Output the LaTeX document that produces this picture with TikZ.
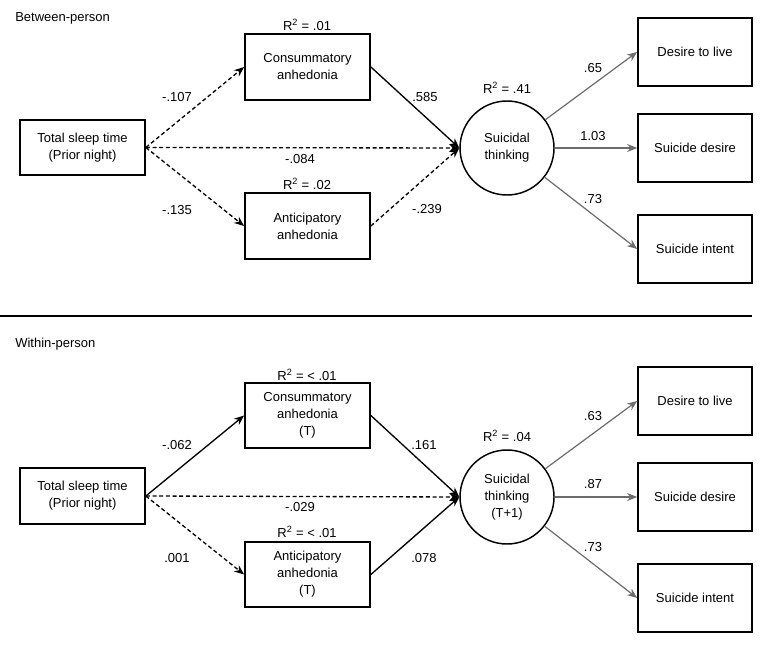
\documentclass[tikz,border=0pt]{standalone}
\usepackage{fontspec}
\setmainfont{Liberation Sans}
\usetikzlibrary{arrows.meta}
\begin{document}
\begin{tikzpicture}[x=0.75pt,y=-0.75pt,
  every node/.style={font=\fontsize{9.75}{12.75}\selectfont, inner sep=0pt, align=center},
  box/.style={draw, line width=1.3pt, minimum width=93.75pt, minimum height=#1},
  box/.default=49.5pt,
  latent/.style={draw, circle, line width=1.1pt, minimum size=70.5pt},
  blk/.style={line width=1pt, -{Stealth[length=7.5pt,width=6pt]}},
  dsh/.style={blk, dash pattern=on 3pt off 2pt},
  gry/.style={draw=gray!85!black, line width=0.9pt, -{Stealth[length=7.5pt,width=6pt]}, color=gray!85!black},
  lab/.style={}
]
\useasboundingbox (0,0) rectangle (762,645);

% ---------- Between-person ----------
\node[anchor=west] (t1) at (15,18) {Between-person};
\node[box=41.25pt] (s1) at (82.5,147.5) {Total sleep time\\(Prior night)};
\node[box] (c1) at (307.5,67) {Consummatory\\anhedonia};
\node[box] (a1) at (307.5,226) {Anticipatory\\anhedonia};
\node[latent] (st1) at (507,148) {Suicidal\\thinking};
\node[box=51pt, minimum width=85.5pt] (l1) at (695,52) {Desire to live};
\node[box=51pt, minimum width=85.5pt] (d1) at (695,148) {Suicide desire};
\node[box=51pt, minimum width=85.5pt] (i1) at (695,249) {Suicide intent};

\node (rc1) at (307,25) {R\textsuperscript{2} = .01};
\node (ra1) at (307,184) {R\textsuperscript{2} = .02};
\node (rs1) at (507,88) {R\textsuperscript{2} = .41};

\draw[dsh] (s1.east) -- (c1.west);
\draw[dsh] (s1.east) -- (a1.west);
\draw[dsh] (s1.east) -- (st1.west);
\draw[blk] (c1.east) -- (st1.west);
\draw[dsh] (a1.east) -- (st1.west);
\draw[gry] (st1) -- (l1.west);
\draw[gry] (st1) -- (d1.west);
\draw[gry] (st1) -- (i1.west);

\node (e1) at (177,97) {-.107};
\node (e2) at (177,210) {-.135};
\node (e3) at (300,159) {-.084};
\node (e4) at (425,97) {.585};
\node (e5) at (427,209) {-.239};
\node (e6) at (593,68) {.65};
\node (e7) at (593,136) {1.03};
\node (e8) at (593,199) {.73};

% ---------- separator ----------
\coordinate (sepL) at (0,316);
\coordinate (sepR) at (752,316);
\draw[line width=1.4pt] (sepL) -- (sepR);

% ---------- Within-person ----------
\node[anchor=west] (t2) at (15,344) {Within-person};
\node[box=42pt] (s2) at (82.5,496) {Total sleep time\\(Prior night)};
\node[box=48.75pt] (c2) at (307.5,415.5) {Consummatory\\anhedonia\\(T)};
\node[box=48.75pt] (a2) at (307.5,574.5) {Anticipatory\\anhedonia\\(T)};
\node[latent] (st2) at (507,497) {Suicidal\\thinking\\(T+1)};
\node[box=51pt, minimum width=85.5pt] (l2) at (695,401) {Desire to live};
\node[box=51pt, minimum width=85.5pt] (d2) at (695,497) {Suicide desire};
\node[box=51pt, minimum width=85.5pt] (i2) at (695,598) {Suicide intent};

\node (rc2) at (307,375) {R\textsuperscript{2} = < .01};
\node (ra2) at (307,532) {R\textsuperscript{2} = < .01};
\node (rs2) at (507,436) {R\textsuperscript{2} = .04};

\draw[blk] (s2.east) -- (c2.west);
\draw[dsh] (s2.east) -- (a2.west);
\draw[dsh] (s2.east) -- (st2.west);
\draw[blk] (c2.east) -- (st2.west);
\draw[blk] (a2.east) -- (st2.west);
\draw[gry] (st2) -- (l2.west);
\draw[gry] (st2) -- (d2.west);
\draw[gry] (st2) -- (i2.west);

\node (f1) at (177,445) {-.062};
\node (f2) at (177,558) {.001};
\node (f3) at (300,507) {-.029};
\node (f4) at (424,445) {.161};
\node (f5) at (424,558) {.078};
\node (f6) at (593,416) {.63};
\node (f7) at (593,484) {.87};
\node (f8) at (593,547) {.73};
\end{tikzpicture}
\end{document}
